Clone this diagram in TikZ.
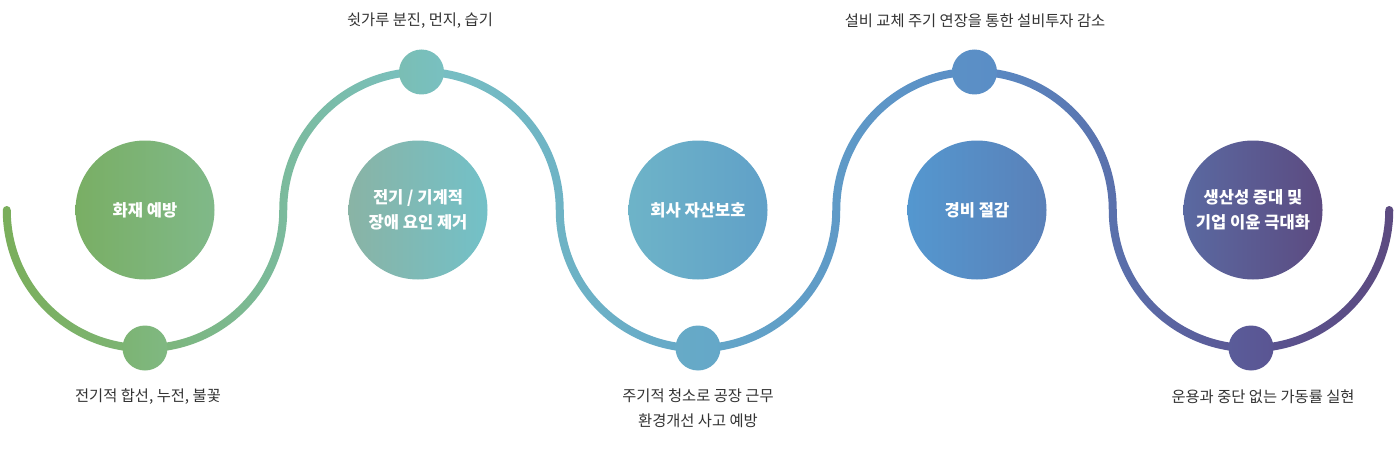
\documentclass[tikz,border=0pt]{standalone}
\usepackage{fontspec}
\setmainfont{Noto Sans CJK KR}
\definecolor{g0}{HTML}{7AAE5A}
\definecolor{g1}{HTML}{7DB577}
\definecolor{g2}{HTML}{79C0C2}
\definecolor{g3}{HTML}{64A7C8}
\definecolor{g4}{HTML}{5A8DC6}
\definecolor{g5}{HTML}{5A5492}
\definecolor{g6}{HTML}{5C4A7F}
\definecolor{s1l}{HTML}{7CB372}
\definecolor{s1r}{HTML}{80B983}
\definecolor{labelgray}{HTML}{333333}
\definecolor{b1l}{RGB}{121,174,99}
\definecolor{b1r}{RGB}{128,185,138}
\definecolor{b2l}{RGB}{138,179,164}
\definecolor{b2r}{RGB}{114,193,201}
\definecolor{b3l}{RGB}{110,180,200}
\definecolor{b3r}{RGB}{96,160,200}
\definecolor{b4l}{RGB}{84,152,208}
\definecolor{b4r}{RGB}{90,128,184}
\definecolor{b5l}{RGB}{90,106,162}
\definecolor{b5r}{RGB}{92,74,128}
\tikzset{
  gradfill/.style 2 args={path picture={\shade[left color=#1,right color=#2]
     ([shift={(-3pt,-3pt)}]path picture bounding box.south west) rectangle
     ([shift={(3pt,3pt)}]path picture bounding box.north east);}},
  bigc/.style={circle, minimum size=104.25pt, inner sep=0pt, text=white, font=\fontsize{12.4pt}{18.75pt}\selectfont\bfseries, align=center},
  smallc/.style={circle, minimum size=33.75pt, inner sep=0pt},
  lbl/.style={text=labelgray, font=\fontsize{11.5pt}{18.75pt}\selectfont, align=center, inner sep=0pt}
}
\begin{document}
\begin{tikzpicture}[x=0.75pt,y=-0.75pt]
\useasboundingbox (0,0) rectangle (1400,453);
\fill[white] (0,0) rectangle (1400,453);
% wave band
\begin{scope}
\clip
  (2.75,210) arc[start angle=180,end angle=0,radius=142.25] -- ++(-8,0) arc[start angle=0,end angle=180,radius=134.25] -- cycle
  (279.25,210) arc[start angle=180,end angle=360,radius=142.25] -- ++(-8,0) arc[start angle=360,end angle=180,radius=134.25] -- cycle
  (555.75,210) arc[start angle=180,end angle=0,radius=142.25] -- ++(-8,0) arc[start angle=0,end angle=180,radius=134.25] -- cycle
  (832.25,210) arc[start angle=180,end angle=360,radius=142.25] -- ++(-8,0) arc[start angle=360,end angle=180,radius=134.25] -- cycle
  (1108.75,210) arc[start angle=180,end angle=0,radius=142.25] -- ++(-8,0) arc[start angle=0,end angle=180,radius=134.25] -- cycle
  (2.75,210) arc[start angle=180,end angle=360,radius=4] -- cycle
  (1385.25,210) arc[start angle=180,end angle=360,radius=4] -- cycle;
\shade[left color=g0,right color=g1] (0,40) rectangle (145,400);
\shade[left color=g1,right color=g2] (145,40) rectangle (421.5,400);
\shade[left color=g2,right color=g3] (421.5,40) rectangle (698,400);
\shade[left color=g3,right color=g4] (698,40) rectangle (974.5,400);
\shade[left color=g4,right color=g5] (974.5,40) rectangle (1251,400);
\shade[left color=g5,right color=g6] (1251,40) rectangle (1400,400);
\end{scope}
% small circles
\node[smallc, gradfill={s1l}{s1r}] (s1) at (145,348) {};
\node[smallc, gradfill={g2!80!g1}{g2}] (s2) at (421.5,72) {};
\node[smallc, gradfill={g3!85!g2}{g3}] (s3) at (698,348) {};
\node[smallc, gradfill={g4!85!g3}{g4}] (s4) at (974.5,72) {};
\node[smallc, gradfill={g5!85!g4}{g5}] (s5) at (1251,348) {};
% big circles
\node[bigc, gradfill={b1l}{b1r}] (b1) at (145,210) {화재 예방};
\node[bigc, gradfill={b2l}{b2r}] (b2) at (418,210) {전기 / 기계적\\장애 요인 제거};
\node[bigc, gradfill={b3l}{b3r}] (b3) at (698,210) {회사 자산보호};
\node[bigc, gradfill={b4l}{b4r}] (b4) at (977,210) {경비 절감};
\node[bigc, gradfill={b5l}{b5r}] (b5) at (1253,210) {생산성 증대 및\\기업 이윤 극대화};
% labels
\node[lbl] (l1) at (148,397) {전기적 합선, 누전, 불꽃};
\node[lbl] (l2) at (420,21) {쉿가루 분진, 먼지, 습기};
\node[lbl] (l3) at (698,408) {주기적 청소로 공장 근무\\환경개선 사고 예방};
\node[lbl] (l4) at (975,21) {설비 교체 주기 연장을 통한 설비투자 감소};
\node[lbl] (l5) at (1263,397) {운용과 중단 없는 가동률 실현};
\end{tikzpicture}
\end{document}
